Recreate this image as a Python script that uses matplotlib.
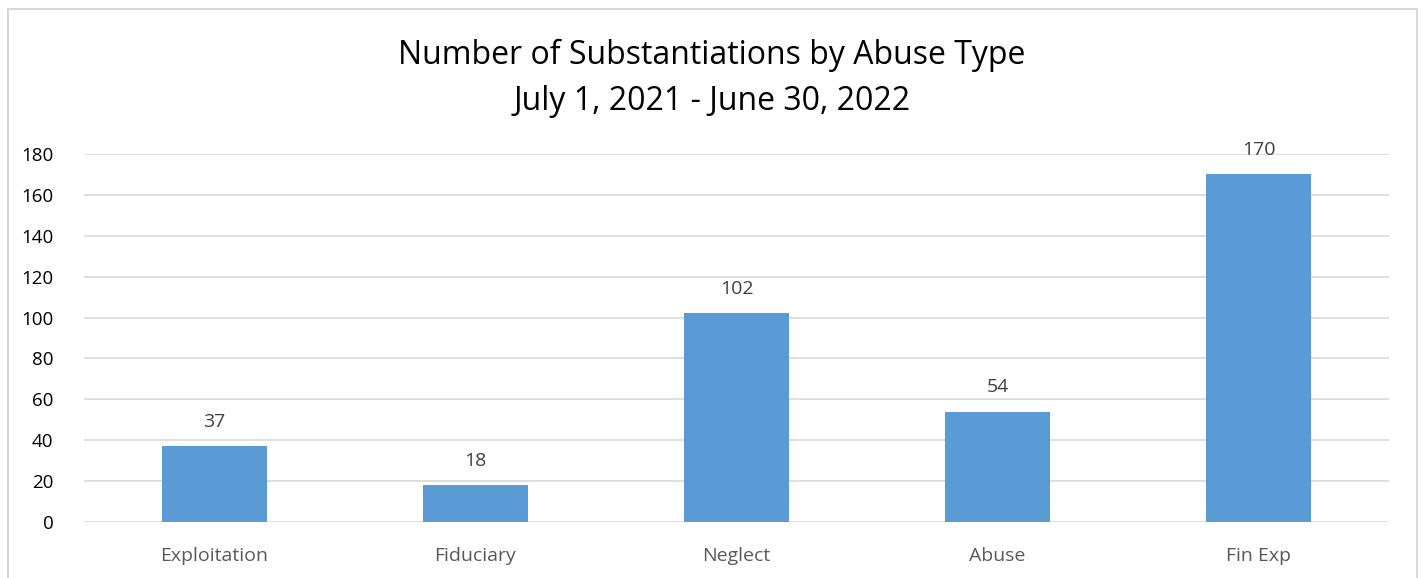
import matplotlib
matplotlib.use('Agg')
import matplotlib.pyplot as plt
from matplotlib.patches import Rectangle

# data
abuse_types = ['Exploitation', 'Fiduciary', 'Neglect', 'Abuse', 'Fin Exp']
counts = [37, 18, 102, 54, 170]
y_ticks = [0, 20, 40, 60, 80, 100, 120, 140, 160, 180]

plt.rcParams['font.family'] = ['Open Sans', 'DejaVu Sans']

fig = plt.figure(figsize=(14.24, 5.78), dpi=100)
ax = fig.add_axes([84 / 1424, 1 - 522 / 578, (1389 - 84) / 1424, (522 - 154) / 578])

x = range(len(abuse_types))
bars = ax.bar(x, counts, width=0.4, color='#5B9BD5', zorder=3)
for xi, v in zip(x, counts):
    ax.annotate(str(v), (xi, v), xytext=(0, 11), textcoords='offset points',
                ha='center', va='bottom', fontsize=14, color='#404040')

ax.set_xlim(-0.5, len(abuse_types) - 0.5)
ax.set_ylim(0, 180)
ax.set_yticks(y_ticks)
ax.set_xticks(list(x))
ax.set_xticklabels(abuse_types, fontsize=14, color='#595959')
ax.tick_params(axis='y', labelsize=13.5, labelcolor='black', length=0, pad=22)
ax.tick_params(axis='x', length=0, pad=18)
ax.grid(axis='y', color='#D9D9D9', linewidth=1.2, zorder=0)
for s in ax.spines.values():
    s.set_visible(False)

fig.text(0.5, 1 - 55 / 578, 'Number of Substantiations by Abuse Type',
         ha='center', va='center', fontsize=23, color='black')
fig.text(0.5, 1 - 101 / 578, 'July 1, 2021 - June 30, 2022',
         ha='center', va='center', fontsize=23, color='black')

# chart border
fig.patches.append(Rectangle((8 / 1424, -0.05), (1417 - 8) / 1424, 1.05 - 9 / 578,
                             transform=fig.transFigure, fill=False,
                             edgecolor='#D9D9D9', linewidth=1.5))

fig.savefig('out.png', dpi=100)
